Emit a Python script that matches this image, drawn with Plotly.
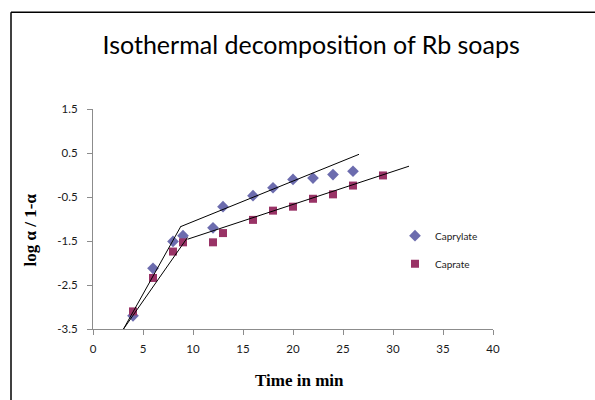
import plotly.graph_objects as go

# ---- data ----
time_caprylate = [4, 6, 8, 9, 12, 13, 16, 18, 20, 22, 24, 26]
logratio_caprylate = [-3.20, -2.12, -1.51, -1.38, -1.20, -0.72, -0.47, -0.29, -0.10, -0.07, 0.01, 0.085]

time_caprate = [4, 6, 8, 9, 12, 13, 16, 18, 20, 22, 24, 26, 29]
logratio_caprate = [-3.10, -2.34, -1.74, -1.53, -1.53, -1.32, -1.02, -0.81, -0.72, -0.54, -0.44, -0.24, -0.01]

# fitted straight-line segments (endpoints, data units)
fit_caprylate_1_x = [3.05, 8.8]
fit_caprylate_1_y = [-3.5, -1.16]
fit_caprylate_2_x = [8.8, 26.6]
fit_caprylate_2_y = [-1.17, 0.47]
fit_caprate_1_x = [3.05, 9.45]
fit_caprate_1_y = [-3.5, -1.42]
fit_caprate_2_x = [9.45, 31.6]
fit_caprate_2_y = [-1.46, 0.2]

x_ticks = [0, 5, 10, 15, 20, 25, 30, 35, 40]
y_ticks = [-3.5, -2.5, -1.5, -0.5, 0.5, 1.5]
y_tick_labels = ["-3.5", "-2.5", "-1.5", "-0.5", "0.5", "1.5"]

col_caprylate = "#6C6CAE"
col_caprate = "#993366"
axis_col = "#8C8C8C"
tick_font = dict(family="Lato, Carlito, sans-serif", size=11.5, color="#1a1a1a")

fig = go.Figure()

fig.add_trace(go.Scatter(
    x=time_caprylate, y=logratio_caprylate, mode="markers", name="Caprylate",
    marker=dict(symbol="diamond", size=9, color=col_caprylate),
    legendgroup="a"))
fig.add_trace(go.Scatter(
    x=time_caprate, y=logratio_caprate, mode="markers", name="Caprate",
    marker=dict(symbol="square", size=8, color=col_caprate),
    legendgroup="b"))

for fx, fy in [(fit_caprylate_1_x, fit_caprylate_1_y), (fit_caprylate_2_x, fit_caprylate_2_y),
               (fit_caprate_1_x, fit_caprate_1_y), (fit_caprate_2_x, fit_caprate_2_y)]:
    fig.add_trace(go.Scatter(x=fx, y=fy, mode="lines", showlegend=False,
                             line=dict(color="black", width=1), hoverinfo="skip"))

fig.update_layout(
    width=595, height=400,
    margin=dict(l=93, r=102, t=109, b=71),
    paper_bgcolor="white", plot_bgcolor="white",
    showlegend=True,
    legend=dict(x=0.755, y=0.49, xanchor="left", yanchor="top",
                font=dict(family="Lato, Carlito, sans-serif", size=10, color="#222222"),
                traceorder="grouped", tracegroupgap=9, bgcolor="rgba(0,0,0,0)",
                itemwidth=30),
    title=dict(text="Isothermal decomposition of Rb soaps",
               font=dict(family="Lato, Carlito, sans-serif", size=25, color="black"),
               x=0.523, xanchor="center", y=0.888, yanchor="middle", xref="container"),
)

fig.update_xaxes(range=[0, 40], tickvals=x_ticks, showgrid=False, zeroline=False,
                 showline=True, linecolor=axis_col, linewidth=1.2,
                 ticks="outside", ticklen=5, tickcolor=axis_col, tickwidth=1.2,
                 tickfont=tick_font, ticklabelstandoff=4)
fig.update_yaxes(range=[-3.5, 1.5], tickvals=y_ticks, ticktext=y_tick_labels,
                 showgrid=False, zeroline=False,
                 showline=True, linecolor=axis_col, linewidth=1.2,
                 ticks="outside", ticklen=5, tickcolor=axis_col, tickwidth=1.2,
                 tickfont=tick_font, ticklabelstandoff=7)

# axis titles
fig.add_annotation(text="<b>Time in min</b>", xref="paper", yref="paper",
                   x=0.515, y=-0.234, showarrow=False, xanchor="center", yanchor="middle",
                   font=dict(family="Liberation Serif, Times New Roman, serif", size=17, color="black"))
fig.add_annotation(text="<b>log α / 1-α</b>", xref="paper", yref="paper",
                   x=-0.1575, y=0.448, showarrow=False, textangle=-90,
                   xanchor="center", yanchor="middle",
                   font=dict(family="Liberation Serif, Times New Roman, serif", size=17, color="black"))

# outer chart frame (left and top edges visible)
fig.add_shape(type="line", xref="paper", yref="paper", x0=-0.205, x1=1.3, y0=1.44, y1=1.44,
              line=dict(color="black", width=1.5))
fig.add_shape(type="line", xref="paper", yref="paper", x0=-0.205, x1=-0.205, y0=1.44, y1=-0.4,
              line=dict(color="black", width=1.5))

fig.write_html("out.html")
